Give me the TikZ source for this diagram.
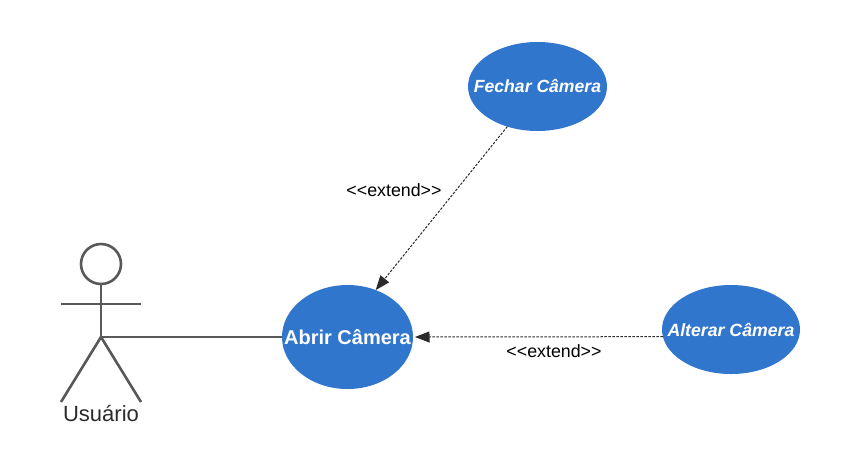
\documentclass[tikz,border=0pt]{standalone}
\usepackage{fontspec}
\setmainfont{Liberation Sans}
\usetikzlibrary{arrows.meta,shapes.geometric}
\definecolor{ucblue}{HTML}{3176CD}
\definecolor{actorgray}{HTML}{595959}
\definecolor{linkdark}{HTML}{2B2B2B}
\tikzset{
  usecase/.style={ellipse,fill=ucblue,draw=none,inner sep=0pt,outer sep=0pt,text=white,font=\fontsize{#1}{#1}\selectfont\bfseries},
  actorline/.style={draw=actorgray,line width=2.6pt},
  extendlink/.style={draw=linkdark,line width=1pt,dash pattern=on 2.5pt off 1.5pt,-{Triangle[length=14.5pt,width=11pt,fill=linkdark]}},
  linklabel/.style={text=black,font=\fontsize{17.8}{17.8}\selectfont,inner sep=0pt},
}
\begin{document}
\begin{tikzpicture}[x=1pt,y=-1pt]
\useasboundingbox[fill=white] (0,0) rectangle (860,467);
\node[usecase=20,minimum width=131pt,minimum height=104pt] (abrir) at (347.5,337) {\makebox[0pt][c]{Abrir Câmera}};
\node[usecase=17.6,minimum width=139pt,minimum height=89pt] (fechar) at (537.5,86.5) {\makebox[0pt][c]{\itshape Fechar Câmera}};
\node[usecase=17.7,minimum width=138pt,minimum height=89pt] (alterar) at (731,329.5) {\makebox[0pt][c]{\itshape Alterar Câmera}};
% actor
\node[circle,actorline,minimum size=40pt,inner sep=0pt,outer sep=0pt] (head) at (101,264) {};
\coordinate (hip) at (101,337);
\coordinate (armL) at (61,304);
\coordinate (armR) at (141,304);
\coordinate (footL) at (61,402);
\coordinate (footR) at (141,402);
\draw[actorline] (head.south) -- (hip);
\draw[actorline] (armL) -- (armR);
\draw[actorline] (footL) -- (hip) -- (footR);
\node[text=linkdark,font=\fontsize{22}{22}\selectfont,inner sep=0pt] (usuario) at (101,413) {Usuário};
% connectors
\draw[actorline] (hip) -- (abrir.west);
\draw[extendlink] (fechar.233) -- (abrir.59);
\draw[extendlink,shorten >=2pt] (alterar.186.2) -- (abrir.east);
\node[linklabel] (ext1) at (394,190.5) {<{}<extend>{}>};
\node[linklabel] (ext2) at (554,351.5) {<{}<extend>{}>};
\end{tikzpicture}
\end{document}
